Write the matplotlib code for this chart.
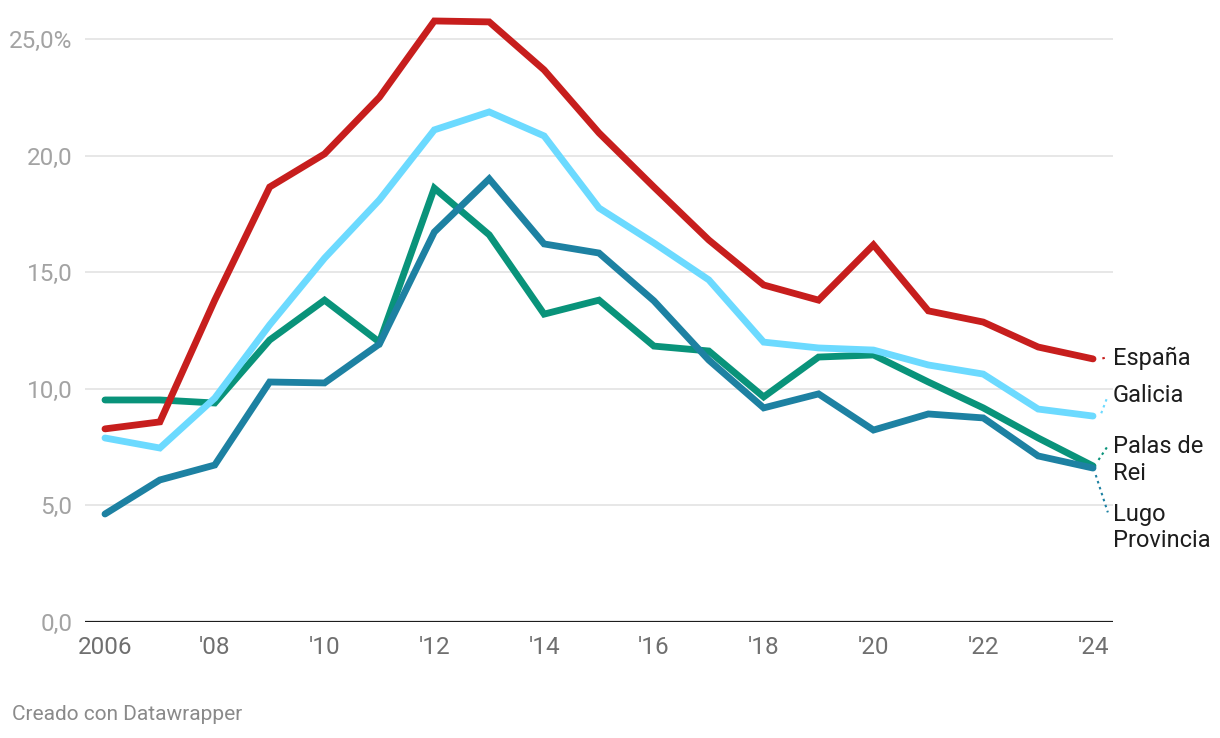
import matplotlib
matplotlib.use('Agg')
import matplotlib.pyplot as plt
import numpy as np

plt.rcParams['font.family'] = ['Roboto', 'DejaVu Sans']

years = list(range(2006, 2025))

espana = [8.28, 8.58, 13.8, 18.65, 20.07, 22.5, 25.77, 25.73, 23.67, 20.97,
          18.65, 16.38, 14.45, 13.8, 16.17, 13.34, 12.86, 11.79, 11.28]
galicia = [7.89, 7.46, 9.6, 12.74, 15.6, 18.1, 21.1, 21.87, 20.84, 17.75,
           16.25, 14.67, 12.0, 11.75, 11.66, 11.02, 10.63, 9.13, 8.83]
palas = [9.52, 9.52, 9.39, 12.09, 13.8, 12.0, 18.6, 16.6, 13.2, 13.8,
         11.83, 11.62, 9.65, 11.36, 11.45, 10.29, 9.18, 7.89, 6.69]
lugo = [4.63, 6.09, 6.73, 10.29, 10.25, 11.92, 16.72, 19.0, 16.21, 15.82,
        13.77, 11.23, 9.18, 9.78, 8.23, 8.92, 8.75, 7.12, 6.6]

yticks = [0, 5, 10, 15, 20, 25]
ytick_labels = ["0,0", "5,0", "10,0", "15,0", "20,0", "25,0%"]
xticks = [2006, 2008, 2010, 2012, 2014, 2016, 2018, 2020, 2022, 2024]
xtick_labels = ["2006", "'08", "'10", "'12", "'14", "'16", "'18", "'20", "'22", "'24"]

# series: name, values, colour, label y, leader start (x, y), leader end y
series = [
    ("Palas de\nRei", palas, "#09937a", 6.95, (2024.1, 6.95), 7.55),
    ("Lugo\nProvincia", lugo, "#1d81a2", 4.05, (2024.05, 6.3), 4.7),
    ("Galicia", galicia, "#6cdaff", 9.7, (2024.15, 8.95), 9.7),
    ("España", espana, "#c71e1d", 11.3, (2024.17, 11.3), 11.36),
]

fig = plt.figure(figsize=(12.2, 7.38), dpi=100)
ax = fig.add_axes([85 / 1220, 116 / 738, 1028 / 1220, 612 / 738])

for name, vals, col, ly, (sx, sy), ey in series:
    ax.plot(years, vals, color=col, lw=4.9, solid_capstyle='round',
            solid_joinstyle='miter', clip_on=False, zorder=3)
    ax.plot([sx, 2024.27], [sy, ey], color=col, lw=1.5, ls=(0, (1.2, 1.8)),
            clip_on=False, zorder=2)
    ax.text(2024.364, ly, name, fontsize=17, color="#1d1d1d", ha='left',
            va='center', linespacing=1.2, clip_on=False)

ax.set_xlim(2005.636, 2024.364)
ax.set_ylim(0, 26.24)

for y in yticks[1:]:
    ax.axhline(y, color="#e3e3e3", lw=1.2, zorder=1)
ax.axhline(0, color="#1d1d1d", lw=1.6, zorder=4)

ax.set_yticks(yticks)
ax.set_yticklabels(ytick_labels)
ax.set_xticks(xticks)
ax.set_xticklabels(xtick_labels)
ax.tick_params(axis='y', length=0, pad=9, labelsize=17.5, labelcolor="#a3a3a3")
ax.tick_params(axis='x', length=0, pad=10, labelsize=17.5, labelcolor="#6f6f6f")
for s in ax.spines.values():
    s.set_visible(False)

fig.text(12 / 1220, 1 - 715 / 738, "Creado con Datawrapper", fontsize=15,
         color="#8a8a8a", ha='left', va='center')

fig.savefig("out.png", dpi=100)
